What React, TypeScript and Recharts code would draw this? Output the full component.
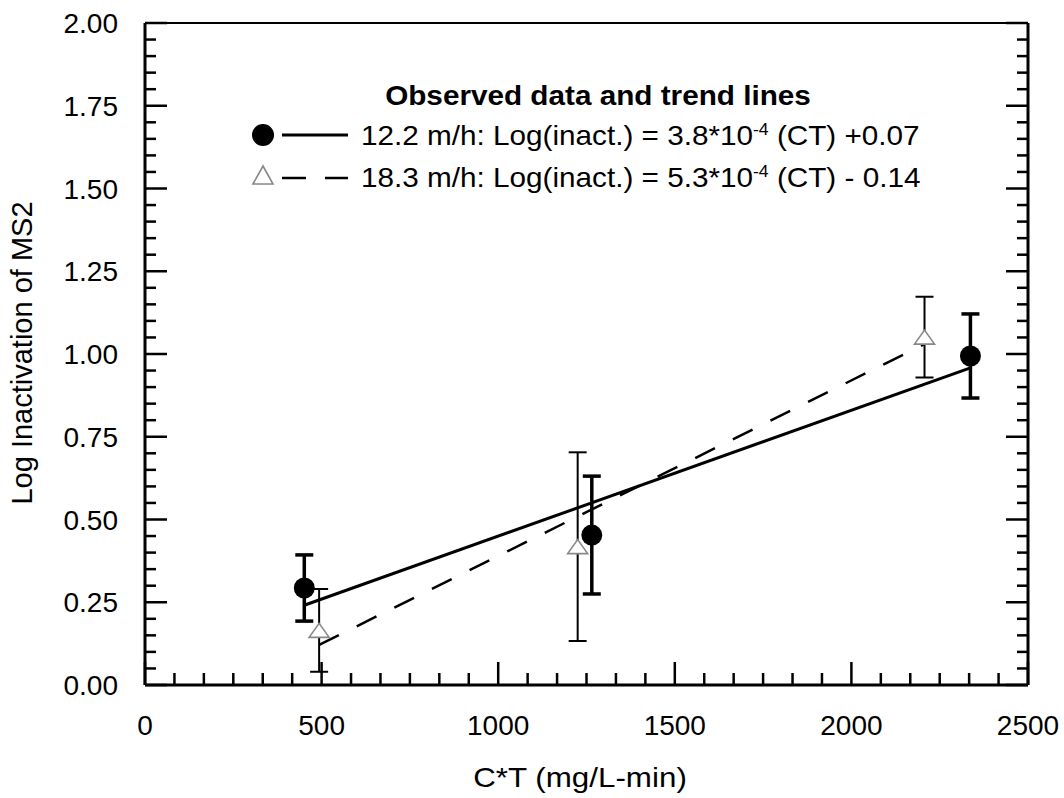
import React from 'react';
import { ComposedChart, XAxis, YAxis, Scatter, Line, ErrorBar, ReferenceLine, Legend } from 'recharts';

// ---- data ----
const circleData = [
  { x: 451, y: 0.293, err: 0.1 },
  { x: 1265, y: 0.453, err: 0.178 },
  { x: 2337, y: 0.994, err: 0.127 },
];
const triangleData = [
  { x: 493, y: 0.165, err: 0.125 },
  { x: 1225, y: 0.418, err: 0.285 },
  { x: 2207, y: 1.051, err: 0.122 },
];
const trend122 = [
  { x: 451, y: 0.241 },
  { x: 2337, y: 0.958 },
];
const trend183 = [
  { x: 493, y: 0.121 },
  { x: 2207, y: 1.03 },
];
const xMajorTicks = [0, 500, 1000, 1500, 2000, 2500];
const yMajorTicks = [0, 0.25, 0.5, 0.75, 1.0, 1.25, 1.5, 1.75, 2.0];
const xMinorPerMajor = 6;
const yMinorPerMajor = 5;

const xTicks: number[] = [];
for (let i = 0; i < xMajorTicks.length - 1; i++) {
  const a = xMajorTicks[i], b = xMajorTicks[i + 1];
  for (let k = 0; k < xMinorPerMajor; k++) xTicks.push(a + ((b - a) * k) / xMinorPerMajor);
}
xTicks.push(xMajorTicks[xMajorTicks.length - 1]);
const yTicks: number[] = [];
for (let i = 0; i < yMajorTicks.length - 1; i++) {
  const a = yMajorTicks[i], b = yMajorTicks[i + 1];
  for (let k = 0; k < yMinorPerMajor; k++) yTicks.push(a + ((b - a) * k) / yMinorPerMajor);
}
yTicks.push(yMajorTicks[yMajorTicks.length - 1]);

const FONT = '"Liberation Sans", Arial, Helvetica, sans-serif';
const isMajor = (v: number, majors: number[]) => majors.some((m) => Math.abs(m - v) < 1e-6);
const stretch = (ox: number, s: number) => `translate(${ox},0) scale(${s},1) translate(${-ox},0)`;

const XTick = (props: any) => {
  const { x, y, payload } = props;
  const major = isMajor(payload.value, xMajorTicks);
  return (
    <g>
      <line x1={x} x2={x} y1={y} y2={y - (major ? 23 : 12)} stroke="#000" strokeWidth={2.5} />
      {major && (
        <text x={x} y={y + 50} textAnchor="middle" fontSize={28} fontFamily={FONT} fill="#000">
          {payload.value}
        </text>
      )}
    </g>
  );
};

const YTickLeft = (props: any) => {
  const { x, y, payload } = props;
  const major = isMajor(payload.value, yMajorTicks);
  return (
    <g>
      <line x1={x} x2={x + (major ? 22 : 11)} y1={y} y2={y} stroke="#000" strokeWidth={2.5} />
      {major && (
        <text x={x - 27} y={y + 10} textAnchor="end" fontSize={28} fontFamily={FONT} fill="#000">
          {Number(payload.value).toFixed(2)}
        </text>
      )}
    </g>
  );
};

const YTickRight = (props: any) => {
  const { x, y, payload } = props;
  const major = isMajor(payload.value, yMajorTicks);
  return <line x1={x} x2={x - (major ? 22 : 11)} y1={y} y2={y} stroke="#000" strokeWidth={2.5} />;
};

const YLabel = () => (
  <text x={32} y={353} transform="rotate(-90 32 353)" textAnchor="middle" fontSize={29} fontFamily={FONT} fill="#000">
    Log Inactivation of MS2
  </text>
);
const XLabel = () => (
  <text x={580} y={787} textAnchor="middle" fontSize={28} fontFamily={FONT} fill="#000" transform={stretch(580, 1.12)}>
    C*T (mg/L-min)
  </text>
);

const CircleShape = (p: any) => <circle cx={p.cx} cy={p.cy} r={10.5} fill="#000" />;
const TriangleShape = (p: any) => (
  <polygon
    points={`${p.cx - 10},${p.cy + 7} ${p.cx},${p.cy - 7} ${p.cx + 10},${p.cy + 7}`}
    fill="#fff"
    stroke="#888"
    strokeWidth={1.6}
  />
);

const LegendBox = () => (
  <svg width={720} height={120} style={{ display: 'block', overflow: 'visible' }}>
    <text x={358} y={25} textAnchor="middle" fontSize={27} fontWeight="bold" fontFamily={FONT} fill="#000" transform={stretch(358, 1.1)}>
      Observed data and trend lines
    </text>
    <circle cx={23} cy={55} r={11} fill="#000" />
    <line x1={42} x2={108} y1={55} y2={55} stroke="#000" strokeWidth={3} />
    <text x={121} y={65} fontSize={27} fontFamily={FONT} fill="#000" transform={stretch(121, 1.1)}>
      12.2 m/h: Log(inact.) = 3.8*10
      <tspan fontSize={16} dy={-10}>-4</tspan>
      <tspan dy={10}> (CT) +0.07</tspan>
    </text>
    <polygon points={`13,104 23,86 33,104`} fill="#fff" stroke="#888" strokeWidth={1.6} />
    <line x1={42} x2={108} y1={98} y2={98} stroke="#000" strokeWidth={2.5} strokeDasharray="24 19" />
    <text x={121} y={107} fontSize={27} fontFamily={FONT} fill="#000" transform={stretch(121, 1.1)}>
      18.3 m/h: Log(inact.) = 5.3*10
      <tspan fontSize={16} dy={-10}>-4</tspan>
      <tspan dy={10}> (CT) - 0.14</tspan>
    </text>
  </svg>
);

export default function App() {
  return (
    <div style={{ position: 'absolute', left: 0, top: 0, width: 1064, height: 798, background: '#fff' }}>
      <ComposedChart width={1064} height={798} margin={{ top: 23, right: 0, bottom: 0, left: 0 }}>
        <XAxis
          dataKey="x"
          type="number"
          domain={[0, 2500]}
          ticks={xTicks}
          interval={0}
          allowDataOverflow
          height={113}
          tickSize={0}
          tickMargin={0}
          tickLine={false}
          tick={<XTick />}
          axisLine={{ stroke: '#000', strokeWidth: 3 }}
          label={<XLabel />}
        />
        <YAxis
          yAxisId="left"
          type="number"
          domain={[0, 2]}
          ticks={yTicks}
          interval={0}
          allowDataOverflow
          width={145}
          tickSize={0}
          tickMargin={0}
          tickLine={false}
          tick={<YTickLeft />}
          axisLine={{ stroke: '#000', strokeWidth: 3 }}
          label={<YLabel />}
        />
        <YAxis
          yAxisId="right"
          orientation="right"
          type="number"
          domain={[0, 2]}
          ticks={yTicks}
          interval={0}
          allowDataOverflow
          width={36}
          tickSize={0}
          tickMargin={0}
          tickLine={false}
          tick={<YTickRight />}
          axisLine={{ stroke: '#000', strokeWidth: 3 }}
        />
        <ReferenceLine yAxisId="left" y={2} stroke="#000" strokeWidth={2} />
        <Line
          yAxisId="left"
          data={trend122}
          dataKey="y"
          stroke="#000"
          strokeWidth={3}
          dot={false}
          activeDot={false}
          isAnimationActive={false}
        />
        <Line
          yAxisId="right"
          data={trend183}
          dataKey="y"
          stroke="#000"
          strokeWidth={2.5}
          strokeDasharray="22 20"
          dot={false}
          activeDot={false}
          isAnimationActive={false}
        />
        <Scatter yAxisId="right" data={triangleData} dataKey="y" shape={<TriangleShape />} isAnimationActive={false}>
          <ErrorBar dataKey="err" direction="y" width={9} stroke="#000" strokeWidth={2} />
        </Scatter>
        <Scatter yAxisId="left" data={circleData} dataKey="y" shape={<CircleShape />} isAnimationActive={false}>
          <ErrorBar dataKey="err" direction="y" width={9} stroke="#000" strokeWidth={3.5} />
        </Scatter>
        <Legend
          layout="vertical"
          align="center"
          verticalAlign="middle"
          content={<LegendBox />}
          wrapperStyle={{ left: 240, top: 80, width: 720, height: 120 }}
        />
      </ComposedChart>
    </div>
  );
}
